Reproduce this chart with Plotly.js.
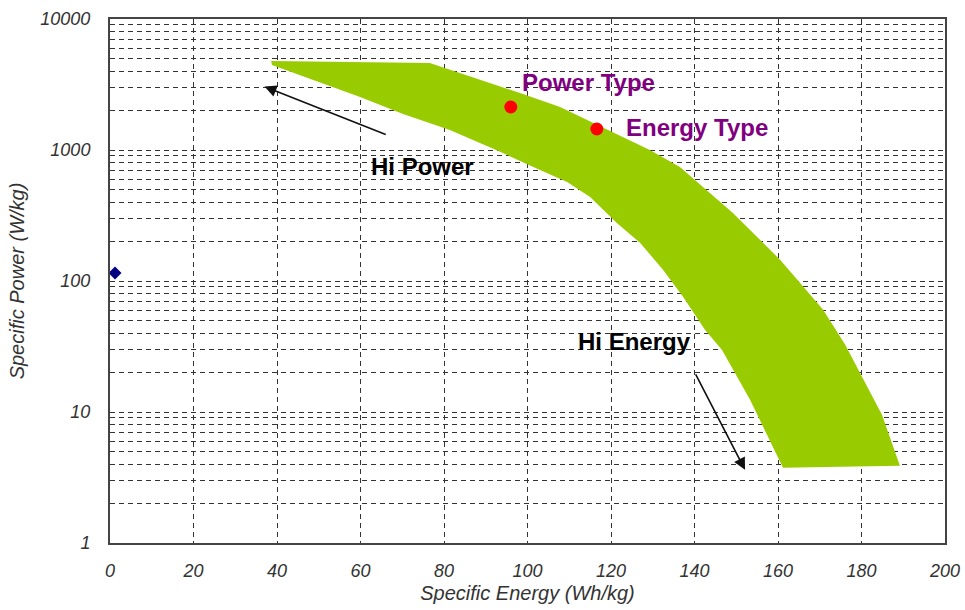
<!DOCTYPE html>
<html>
<head>
<meta charset="utf-8">
<script src="https://cdn.plot.ly/plotly-3.0.1.min.js"></script>
<style>html,body{margin:0;padding:0;background:#fff;}#chart{width:965px;height:610px;}</style>
</head>
<body>
<div id="chart"></div>
<script>
// Green band (Li-ion region): outline, upper edge then lower edge back
const bandEnergy = [38.6, 76.6, 98.2, 107.8, 114.3, 129.3, 136.5, 143.0, 149.2, 155.0, 160.5, 165.3, 170.8, 176.1, 180.1, 184.9, 189.2,
                    161.2, 160.5, 153.3, 146.6, 142.5, 137.3, 132.5, 127.0, 121.4, 115.0, 109.5, 103.0, 92.5, 81.4, 70.2, 59.9, 38.8];
const bandPower  = [4775, 4610, 2722, 2129, 1694, 1000, 742, 495, 331, 217, 145, 96.7, 60.2, 32.6, 18.6, 9.52, 3.89,
                    3.75, 4.17, 12.4, 29.8, 42.4, 75.6, 121.5, 195, 277, 438, 570, 704, 1000, 1420, 1880, 2537, 4450];
// Red points
const typeEnergy = [96.0, 116.6];
const typePower  = [2130, 1446];
// Blue diamond
const diamondEnergy = [1.2];
const diamondPower  = [115];
// Labels
const labelText   = ['Power Type', 'Energy Type', 'Hi Power', 'Hi Energy'];
const labelEnergy = [114.7, 140.6, 74.8, 125.6];
const labelPower  = [3300, 1480, 745, 34.5];
const labelColor  = ['#800080', '#800080', '#000000', '#000000'];
// Arrows: tail -> head
const arrowTailEnergy = [66.4, 140.1];
const arrowTailPower  = [1301, 19.9];
const arrowHeadEnergy = [37.0, 152.1];
const arrowHeadPower  = [3050, 3.62];
const xTicks = [0, 20, 40, 60, 80, 100, 120, 140, 160, 180, 200];
const yTicks = [1, 10, 100, 1000, 10000];

const traces = [
  {x: bandEnergy, y: bandPower, type: 'scatter', mode: 'lines', fill: 'toself',
   fillcolor: '#99CC00', line: {width: 0, color: '#99CC00'}, hoverinfo: 'skip', showlegend: false},
  {x: typeEnergy, y: typePower, type: 'scatter', mode: 'markers',
   marker: {color: '#FF0000', size: 13}, showlegend: false},
  {x: diamondEnergy, y: diamondPower, type: 'scatter', mode: 'markers', cliponaxis: false,
   marker: {color: '#000080', size: 10, symbol: 'diamond'}, showlegend: false}
];

const annotations = [];
labelText.forEach((t, i) => {
  annotations.push({x: labelEnergy[i], y: Math.log10(labelPower[i]), xref: 'x', yref: 'y',
    text: t, showarrow: false, xanchor: 'center', yanchor: 'middle',
    font: {family: 'Liberation Sans, Arial, sans-serif', size: 24, weight: 'bold', color: labelColor[i]}});
});
arrowHeadEnergy.forEach((hx, i) => {
  annotations.push({x: hx, y: Math.log10(arrowHeadPower[i]), xref: 'x', yref: 'y',
    ax: arrowTailEnergy[i], ay: Math.log10(arrowTailPower[i]), axref: 'x', ayref: 'y',
    text: '', showarrow: true, arrowhead: 2, arrowsize: 1.5, arrowwidth: 1.6, arrowcolor: '#111', standoff: 0});
});

const tickFont = {family: 'Liberation Sans, Arial, sans-serif', size: 18, color: '#333', style: 'italic'};
const titleFont = {family: 'Liberation Sans, Arial, sans-serif', size: 20, color: '#333', style: 'italic'};
const layout = {
  width: 965, height: 610,
  margin: {l: 110, r: 20, t: 19, b: 67},
  paper_bgcolor: '#fff', plot_bgcolor: '#fff',
  showlegend: false,
  xaxis: {
    range: [0, 200], tickvals: xTicks, ticktext: xTicks.map(String),
    showgrid: true, gridcolor: '#333', griddash: '5px,4px', gridwidth: 1,
    zeroline: false, showline: true, mirror: true, linecolor: '#444', linewidth: 2,
    ticks: '', ticklabelstandoff: 10, tickfont: tickFont,
    title: {text: 'Specific Energy (Wh/kg)', standoff: 6, font: titleFont}
  },
  yaxis: {
    type: 'log', range: [0, 4], tickvals: yTicks, ticktext: yTicks.map(String),
    showgrid: true, gridcolor: '#333', griddash: '5px,4px', gridwidth: 1,
    minor: {dtick: 'D1', showgrid: true, gridcolor: '#333', griddash: '5px,4px', gridwidth: 1, ticks: ''},
    zeroline: false, showline: true, mirror: true, linecolor: '#444', linewidth: 2,
    ticks: '', ticklabelstandoff: 14, tickfont: tickFont,
    title: {text: 'Specific Power (W/kg)', standoff: 10, font: titleFont}
  },
  annotations: annotations
};

Plotly.newPlot('chart', traces, layout, {displayModeBar: false, staticPlot: true});
</script>
</body>
</html>
